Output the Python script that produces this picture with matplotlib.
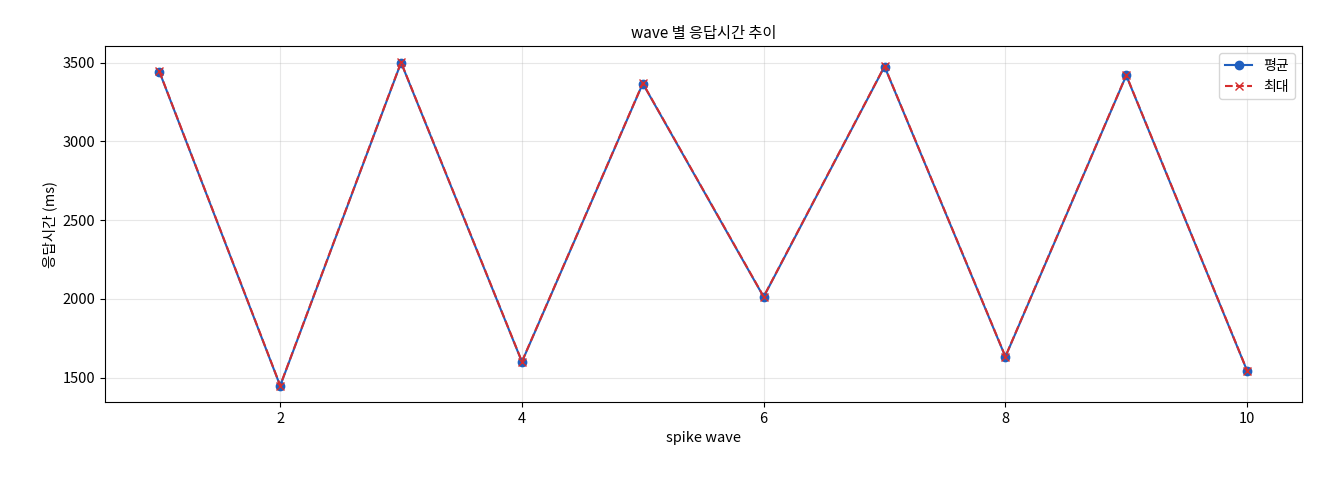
import matplotlib
matplotlib.use("Agg")
import matplotlib.pyplot as plt

plt.rcParams['font.family'] = ['Noto Sans CJK KR', 'DejaVu Sans']

waves = [1, 2, 3, 4, 5, 6, 7, 8, 9, 10]
avg_ms = [3443, 1449, 3500, 1601, 3367, 2013, 3475, 1633, 3418, 1544]
max_ms = [3445, 1451, 3502, 1603, 3369, 2015, 3477, 1635, 3420, 1546]

fig, ax = plt.subplots(figsize=(13.2, 4.8), dpi=100)
ax.plot(waves, avg_ms, marker='o', color='#1f5fbf', label='평균')
ax.plot(waves, max_ms, marker='x', linestyle='--', color='#d62d2d', label='최대')
ax.set_title('wave 별 응답시간 추이', fontsize=11)
ax.set_xlabel('spike wave', fontsize=10.5)
ax.set_ylabel('응답시간 (ms)', fontsize=10.5)
ax.tick_params(labelsize=10.5)
ax.grid(True, alpha=0.3)
ax.legend(loc='upper right')
fig.subplots_adjust(left=0.0795, right=0.986, top=0.904, bottom=0.1625)
plt.savefig('out.png', dpi=100)
